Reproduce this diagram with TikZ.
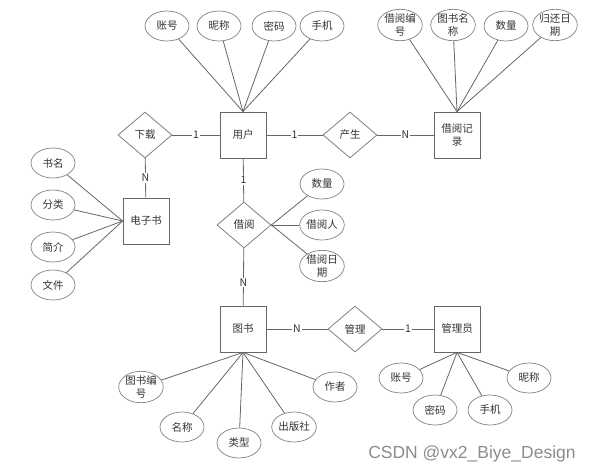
\documentclass[tikz,border=0pt]{standalone}
\usepackage{fontspec}
\setmainfont{Noto Sans CJK SC}
\newfontfamily\wmfont{Liberation Sans}
\usetikzlibrary{shapes.geometric}

\begin{document}
\begin{tikzpicture}[
  x=1pt, y=-1pt,
  font=\fontsize{10.5}{12.5}\selectfont,
  every node/.style={align=center, text=black!80},
  ent/.style={draw=black!60, line width=0.8pt, rectangle, minimum width=46pt, minimum height=46pt, inner sep=1pt},
  rel/.style={draw=black!50, line width=0.8pt, diamond, minimum width=54pt, minimum height=46pt, inner sep=0pt},
  attr/.style={draw=black!50, line width=0.7pt, ellipse, minimum width=44pt, minimum height=30pt, inner sep=0pt},
  card/.style={fill=white, inner sep=1pt},
  ln/.style={draw=black!60, line width=0.8pt},
  wmark/.style={font=\wmfont\fontsize{17.5}{20}\selectfont, text=black!45, inner sep=0pt}
]
\useasboundingbox (0,0) rectangle (596,474);

% entities
\node[ent] (yonghu) at (243,135) {用户};
\node[ent] (jyjl) at (457,135) {借阅记\\录};
\node[ent] (dzs) at (146,221) {电子书};
\node[ent] (tushu) at (243,329) {图书};
\node[ent] (gly) at (457,329) {管理员};

% relations
\node[rel] (xiazai) at (145,135) {下载};
\node[rel] (chansheng) at (350,135) {产生};
\node[rel] (jieyue) at (244,225) {借阅};
\node[rel] (guanli) at (355,329) {管理};

% user attributes
\node[attr] (u1) at (167,26) {账号};
\node[attr] (u2) at (219,26) {昵称};
\node[attr] (u3) at (274,26) {密码};
\node[attr] (u4) at (322,26) {手机};

% record attributes
\node[attr] (r1) at (400,25) {借阅编\\号};
\node[attr] (r2) at (453,25) {图书名\\称};
\node[attr] (r3) at (506,26) {数量};
\node[attr] (r4) at (555,25) {归还日\\期};

% e-book attributes
\node[attr] (e1) at (53,163) {书名};
\node[attr] (e2) at (53,205) {分类};
\node[attr] (e3) at (53,247) {简介};
\node[attr] (e4) at (53,285) {文件};

% borrow attributes
\node[attr] (j1) at (322,184) {数量};
\node[attr] (j2) at (322,225) {借阅人};
\node[attr] (j3) at (322,266) {借阅日\\期};

% book attributes
\node[attr] (b1) at (141,387) {图书编\\号};
\node[attr] (b2) at (182,427) {名称};
\node[attr] (b3) at (239,443) {类型};
\node[attr] (b4) at (294,427) {出版社};
\node[attr] (b5) at (335,387) {作者};

% admin attributes
\node[attr] (a1) at (401,378) {账号};
\node[attr] (a2) at (435,410) {密码};
\node[attr] (a3) at (490,410) {手机};
\node[attr] (a4) at (529,378) {昵称};

% relation lines
\draw[ln] (xiazai) -- node[card] {1} (yonghu);
\draw[ln] (yonghu) -- node[card] {1} (chansheng);
\draw[ln] (chansheng) -- node[card] {N} (jyjl);
\draw[ln] (xiazai) -- node[card] {N} (dzs);
\draw[ln] (yonghu) -- node[card] {1} (jieyue);
\draw[ln] (jieyue) -- node[card, pos=0.6] {N} (tushu);
\draw[ln] (tushu) -- node[card] {N} (guanli);
\draw[ln] (guanli) -- node[card] {1} (gly);

% attribute lines
\draw[ln] (u1) -- (yonghu.north);
\draw[ln] (u2) -- (yonghu.north);
\draw[ln] (u3) -- (yonghu.north);
\draw[ln] (u4) -- (yonghu.north);
\draw[ln] (r1) -- (jyjl.north);
\draw[ln] (r2) -- (jyjl.north);
\draw[ln] (r3) -- (jyjl.north);
\draw[ln] (r4) -- (jyjl.north);
\draw[ln] (e1) -- (dzs.west);
\draw[ln] (e2) -- (dzs.west);
\draw[ln] (e3) -- (dzs.west);
\draw[ln] (e4) -- (dzs.west);
\draw[ln] (j1) -- (jieyue.east);
\draw[ln] (j2) -- (jieyue.east);
\draw[ln] (j3) -- (jieyue.east);
\draw[ln] (b1) -- (tushu.south);
\draw[ln] (b2) -- (tushu.south);
\draw[ln] (b3) -- (tushu.south);
\draw[ln] (b4) -- (tushu.south);
\draw[ln] (b5) -- (tushu.south);
\draw[ln] (a1) -- (gly.south);
\draw[ln] (a2) -- (gly.south);
\draw[ln] (a3) -- (gly.south);
\draw[ln] (a4) -- (gly.south);

% watermark
\node[wmark] (wm) at (472,454) {CSDN @vx2\_Biye\_Design};
\end{tikzpicture}
\end{document}
